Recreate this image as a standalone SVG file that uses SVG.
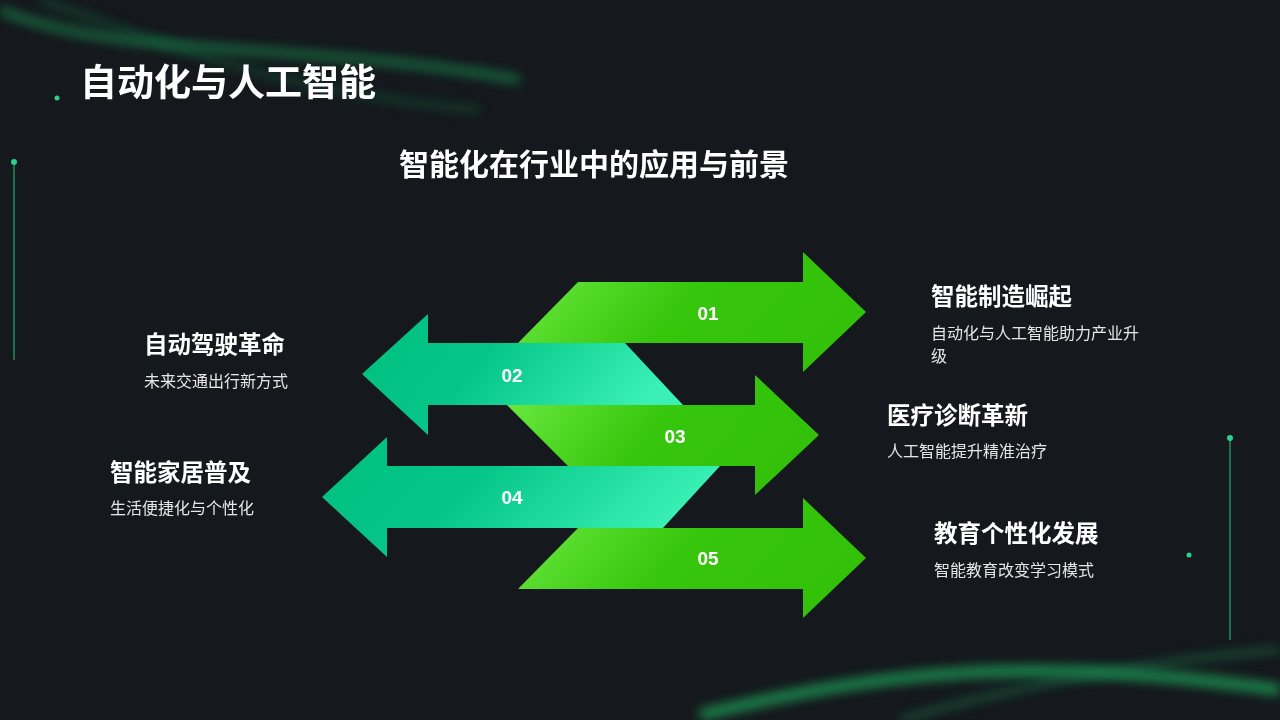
<svg xmlns="http://www.w3.org/2000/svg" width="1280" height="720" viewBox="0 0 1280 720">
<defs>
<linearGradient id="gG" x1="0" y1="0" x2="1" y2="0.3"><stop offset="0" stop-color="#70ec45"/><stop offset="0.55" stop-color="#36c60c"/><stop offset="1" stop-color="#33c10a"/></linearGradient>
<linearGradient id="gT" x1="0" y1="0" x2="1" y2="0.3"><stop offset="0" stop-color="#00c07e"/><stop offset="0.45" stop-color="#05c688"/><stop offset="1" stop-color="#3af0b4"/></linearGradient>
<filter id="blur" x="-20%" y="-50%" width="140%" height="200%"><feGaussianBlur stdDeviation="6"/></filter>
<style>
.t{font-family:"Noto Sans CJK SC","Liberation Sans",sans-serif;fill:#fff}
.h{font-size:23.5px;font-weight:bold}
.d{font-size:16px;fill:#e6e6e6}
.n{font-family:"Liberation Sans",Arial,sans-serif;font-size:19px;font-weight:bold;fill:#fff}
</style>
</defs>
<rect width="1280" height="720" fill="#15181c"/>
<g opacity="0.7">
<path d="M0,10 C120,60 300,40 520,80" stroke="#1fbf6a" stroke-width="6" fill="none" filter="url(#blur)"/>
<path d="M40,0 C160,40 260,90 480,110" stroke="#1a9c58" stroke-width="3" fill="none" filter="url(#blur)"/>
<path d="M700,715 C850,680 1000,650 1280,690" stroke="#22d070" stroke-width="10" fill="none" filter="url(#blur)"/>
<path d="M900,720 C1000,690 1150,660 1280,650" stroke="#1aa060" stroke-width="4" fill="none" filter="url(#blur)"/>
</g>
<line x1="14" y1="162" x2="14" y2="360" stroke="#1e8c5a" stroke-width="1.5"/>
<circle cx="14" cy="162" r="3" fill="#2fd08a"/>
<line x1="1230" y1="438" x2="1230" y2="640" stroke="#1e8c5a" stroke-width="1.5"/>
<circle cx="1230" cy="438" r="3" fill="#2fd08a"/>
<circle cx="1189" cy="555" r="2.5" fill="#2fd08a"/>
<circle cx="57" cy="98" r="2.5" fill="#2fd08a"/>
<text class="t" x="80" y="96" font-size="37" font-weight="bold">自动化与人工智能</text>
<text class="t" x="594" y="175" font-size="30" font-weight="bold" text-anchor="middle">智能化在行业中的应用与前景</text>
<g id="connectors"></g>
<g id="a01"><polygon points="578,282 803,282 803,252 866,312 803,372 803,343 518,343" fill="url(#gG)"/><text class="n" x="708" y="320" text-anchor="middle">01</text></g>
<g id="a05"><polygon points="578,528 803,528 803,498 866,558 803,618 803,589 518,589" fill="url(#gG)"/><text class="n" x="708" y="565" text-anchor="middle">05</text></g>
<g id="a03"><polygon points="507,405 755,405 755,375 819,435 755,495 755,466 568,466" fill="url(#gG)"/><text class="n" x="675" y="443" text-anchor="middle">03</text></g>
<g id="a02"><polygon points="625,343 428,343 428,314 362,374 428,435 428,405 683,405" fill="url(#gT)"/><text class="n" x="512" y="382" text-anchor="middle">02</text></g>
<g id="a04"><polygon points="720,466 387,466 387,437 322,497 387,557 387,528 663,528" fill="url(#gT)"/><text class="n" x="512" y="504" text-anchor="middle">04</text></g>
<g id="n01"><text class="t h" x="931" y="305">智能制造崛起</text><text class="t d" x="931" y="339">自动化与人工智能助力产业升</text><text class="t d" x="931" y="362">级</text></g>
<g id="n02"><text class="t h" x="144" y="353">自动驾驶革命</text><text class="t d" x="144" y="387">未来交通出行新方式</text></g>
<g id="n03"><text class="t h" x="887" y="424">医疗诊断革新</text><text class="t d" x="887" y="457">人工智能提升精准治疗</text></g>
<g id="n04"><text class="t h" x="110" y="481">智能家居普及</text><text class="t d" x="110" y="514">生活便捷化与个性化</text></g>
<g id="n05"><text class="t h" x="934" y="542">教育个性化发展</text><text class="t d" x="934" y="576">智能教育改变学习模式</text></g>
</svg>
